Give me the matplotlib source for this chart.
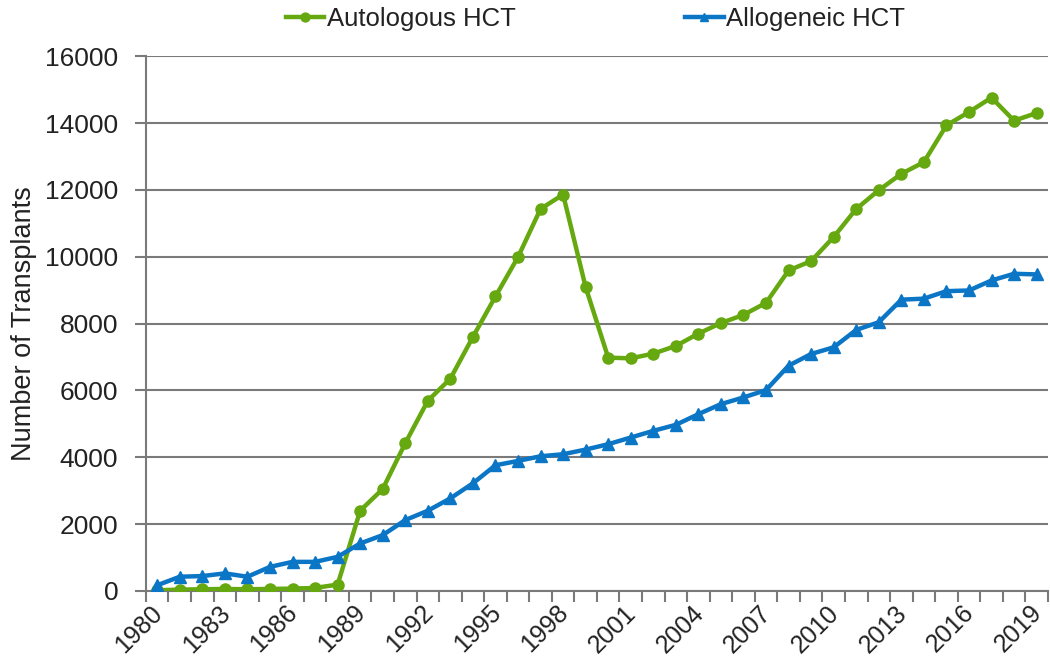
import matplotlib
matplotlib.use("Agg")
import matplotlib.pyplot as plt
import matplotlib.transforms as mtransforms
import numpy as np

years = list(range(1980, 2020))
autologous = [20, 40, 50, 60, 50, 60, 70, 90, 190, 2400, 3050, 4420, 5690, 6350, 7600,
              8810, 9990, 11430, 11860, 9090, 6980, 6960, 7100, 7330, 7700, 8015, 8260,
              8620, 9590, 9870, 10590, 11430, 11990, 12480, 12830, 13930, 14330, 14760,
              14070, 14300]
allogeneic = [170, 425, 445, 525, 425, 720, 870, 870, 1020, 1420, 1670, 2120, 2400, 2770,
              3220, 3760, 3890, 4030, 4090, 4230, 4390, 4590, 4790, 4970, 5290, 5590, 5790,
              6010, 6740, 7090, 7290, 7810, 8040, 8715, 8745, 8970, 8990, 9290, 9490, 9470]
label_years = [str(y) for y in range(1980, 2020, 3)]
y_ticks = list(range(0, 16001, 2000))

plt.rcParams['font.family'] = ['Liberation Sans', 'DejaVu Sans']

green = '#66A810'
blue = '#0B76C5'
txt = '#222222'
gray = '#7a7a7a'

fig = plt.figure(figsize=(10.5, 6.61), dpi=100)
ax = fig.add_axes([0.139, 0.106, 0.859, 0.809])

x = np.arange(len(years))
ax.plot(x, autologous, color=green, lw=3.2, marker='o', ms=8, label='Autologous HCT', zorder=3)
ax.plot(x, allogeneic, color=blue, lw=3.2, marker='^', ms=8, label='Allogeneic HCT', zorder=3)

ax.set_xlim(-0.5, len(years) - 0.5)
ax.set_ylim(0, 16000)
ax.set_yticks(y_ticks)
ax.set_yticklabels([str(v) for v in y_ticks], fontsize=19, color=txt)
ax.yaxis.grid(True, color=gray, lw=1.5, zorder=1)
ax.set_axisbelow(True)

ax.set_xticks(np.arange(-0.5, len(years), 1))
ax.set_xticklabels([])
ax.tick_params(axis='x', which='major', length=8, width=1.5, color=gray, direction='out')
lab_pos = [years.index(int(l)) for l in label_years]
ax.set_xticks(lab_pos, minor=True)
ax.set_xticklabels(label_years, minor=True, rotation=45, ha='right', rotation_mode='anchor',
                   fontsize=18, color=txt)
ax.tick_params(axis='x', which='minor', length=0, pad=7)
offset = mtransforms.ScaledTranslation(-7 / 100, 0, fig.dpi_scale_trans)
for lab in ax.xaxis.get_minorticklabels():
    lab.set_transform(lab.get_transform() + offset)
ax.tick_params(axis='y', length=8, width=1.5, color=gray, pad=12)

for s in ['top', 'right']:
    ax.spines[s].set_visible(False)
for s in ['left', 'bottom']:
    ax.spines[s].set_color(gray)
    ax.spines[s].set_linewidth(1.5)

ax.set_ylabel('Number of Transplants', fontsize=19.5, color=txt, labelpad=6)

leg = fig.legend(loc='upper center', bbox_to_anchor=(0.567, 1.025), ncol=2, frameon=False,
                 fontsize=18.5, handlelength=1.5, handletextpad=0.1, columnspacing=6.6,
                 markerscale=0.8)
for t in leg.get_texts():
    t.set_color(txt)

fig.savefig('out.png', dpi=100, facecolor='white')
